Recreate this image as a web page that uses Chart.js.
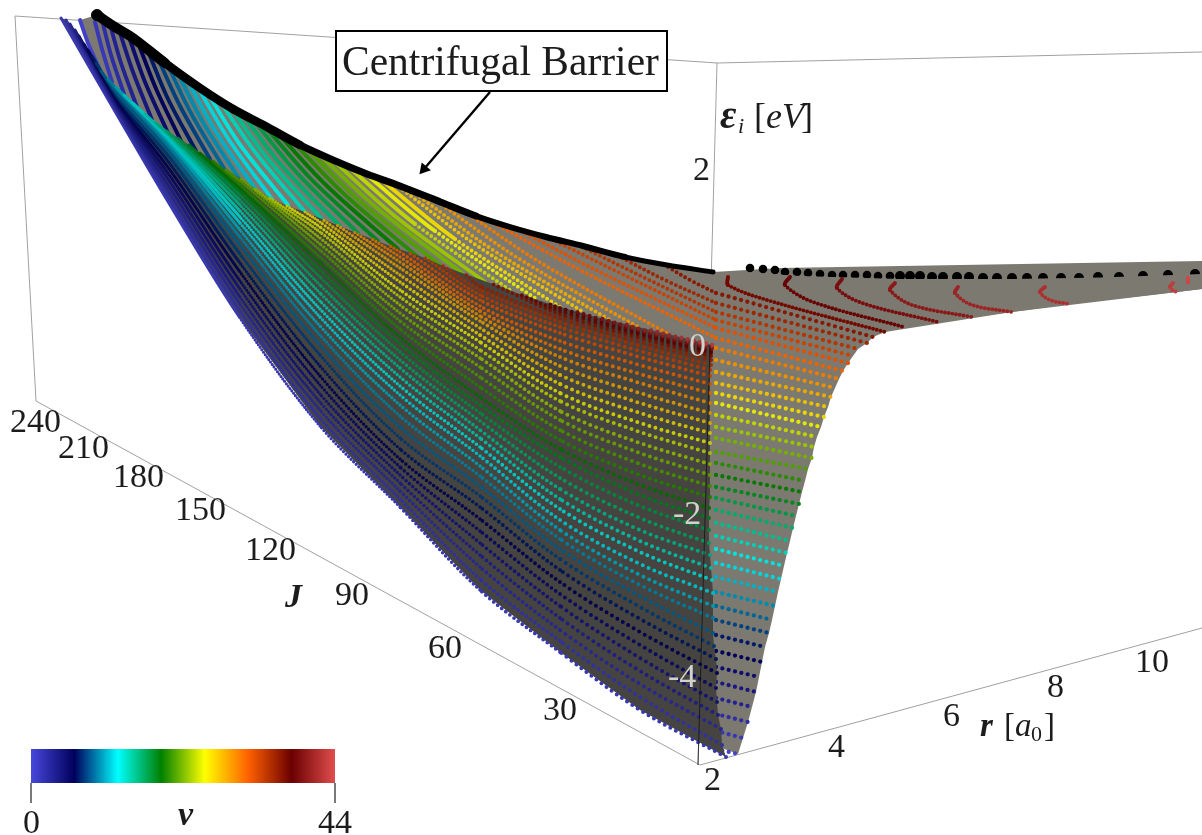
<!DOCTYPE html>
<html>
<head>
<meta charset="utf-8">
<title>Centrifugal Barrier</title>
<script src="https://cdn.jsdelivr.net/npm/chart.js@4"></script>
<style>
  html, body { margin: 0; padding: 0; background: #fff; }
  canvas { display: block; }
</style>
</head>
<body>
<canvas id="myChart" width="1202" height="835"></canvas>
<script>
// projected picture values, one entry per vibrational level v = 0..44
// inner sheet: value read at successive stations, the list stops at the ridge
const innerX0 = [726,722,721,718,717,716,717,716,714,713,713,713,713,712,711,710,709,709,709,709,710,710,710,710,710,710,710,710,710,710,710,710,710,710,711,711,711,711,711,711,712,712,712,712,712];
const innerY0 = [757,745,729,715,702,688,673,659,646,633,618,606,593,580,568,555,543,530,518,508,497,486,475,464,453,443,433,423,413,403,393,384,376,370,365,360,356,353,351,349,348,347,346,345,345];
const stations = [640,560,480,400,320,240,170,120];
const inner640 = [710,697,684,671,658,645,632,619,607,596,585,575,564,552,541,530,518,506,495,485,475,464,453,443,432,423,413,403,393,383,374,365,357,351,346,342,338,335,333,331,330,329];
const inner560 = [652,641,630,618,606,594,582,570,559,549,539,530,520,509,499,489,478,467,457,449,440,430,420,411,401,393,384,375,366,357,349,341,333,327,322,318,314,311,308];
const inner480 = [590,579,567,555,543,531,519,507,496,486,476,466,456,447,438,430,421,413,405,397,387,377,367,358,350,342,335,328,321,316,311,306,300,295,290,286];
const inner400 = [507,499,491,483,475,467,459,449,438,427,416,405,395,386,377,368,360,352,344,337,329,321,313,305,297,290,282,275,268,262,257,252];
const inner320 = [426,418,410,402,394,385,376,366,355,345,335,326,317,309,301,293,285,277,270,263,257,250,244,238,232,227,222];
const inner240 = [318,311,304,297,289,281,272,263,254,245,237,230,223,217,211,205,200,195,191,188,185,181];
const inner170 = [205,200,194,188,182,176,170,164,158,153,148,144,141,139,137,135];
const inner120 = [120,117,114,112,109,107,105,102,100,97,93];
const ridgeX = [61,66,70,75,79,84,88,92,96,101,108,116,124,133,145,156,167,178,189,200,213,226,240,254,270,287,305,322,337,354,372,390,408,425,443,465,490,517,547,577,600,625,650,680,700];
const ridgeY = [18,20,24,30,36,44,50,56,63,71,79,87,95,103,114,123,131,138,145,153,161,170,178,188,198,206,212,219,225,232,239,246,252,258,266,274,283,293,303,312,318,324,330,337,342];

// outer sheet: from the barrier, down to the J = 0 wall
const arcX0 = [80,95,103,111,120,130,140,150,160,170,180,190,200,210,221,232,244,256,268,281,294,308,322,337,352,368,385,403,420,442,465,490,517,547,582,622,668,728,790,842,895,958,1045,1173,1188];
const arcY0 = [20,22,24,28,33,40,48,56,63,70,78,85,91,97,103,109,116,123,130,137,143,150,157,164,170,176,183,190,197,205,212,221,229,237,247,258,267,277,277,279,283,287,287,283,278];
const arcX1 = [88,102,111,121,133,145,157,168,180,192,204,216,229,241,255,268,282,297,312,328,344,361,378,396,415,435,455,476,496,521,546,580,600,620,645,665,690,728,785,837,890,955,1040,1170,1188];
const arcY1 = [43,49,55,63,72,82,91,99,106,115,124,132,140,146,152,159,166,173,180,187,194,202,209,217,224,231,239,245,252,260,266,270,272,273,278,280,280,285,285,288,290,293,292,287,282];
const arcX2 = [100,112,124,137,152,168,182,196,210,225,240,256,272,288,305,322,340,358,378,398,418,440,462,485,510,535,560,585,610,640,667];
const arcY2 = [70,82,94,107,120,133,143,151,159,170,180,190,199,205,212,219,226,233,241,249,257,265,273,282,290,298,307,313,320,328,333];
const arcX3 = [716,716,716,716,716,716,716,716,716,716,716,716,716,716,716,716,716,716,716,716,716,716,716,716,716,716,716,716,716,716,716,716,716,716,716,716,716,767,813,862,912,972,1050,1172,1188];
const arcY3 = [749,731,714,698,682,667,651,635,620,606,592,577,563,549,536,523,510,498,487,475,463,452,438,427,415,403,393,383,372,360,348,338,328,320,312,303,293,300,302,303,305,305,300,290,284];
const wallX = [738,743,748,752,756,759,762,765,769,772,775,778,781,784,787,790,793,796,799,802,805,808,812,814,817,821,824,828,831,835,839,843,848,853,858,867,873,885,904,938,972,1012,1070,1177,1188];
const wallY = [754,738,722,707,692,677,662,647,633,620,606,592,579,566,553,541,528,516,504,492,481,469,458,447,437,427,417,407,397,388,379,371,363,356,349,343,337,332,327,322,317,312,304,292,285];

// centrifugal barrier, black
const barrierX = [97,115,133,165,200,233,267,300,333,367,400,443,476,510,546,583,625,667,713];
const barrierY = [15,27,38,63,88,109,127,145,160,174,186,203,216,227,237,246,257,265,272];
const barrierDotsX = [750,763,775,785,797,808,820,832,843,855,867,878,890,900,910,920,932,943,957,969,983,997,1012,1027,1043,1061,1079,1098,1119,1143,1168,1195];
const barrierDotsY = [268,269,270,272,272,273,274,275,275,275,275,276,276,276,276,276,277,277,277,277,278,278,278,278,278,278,278,277,277,276,275,274];

const colorStops = [[71,71,219],[0,0,92],[0,255,255],[0,128,0],[255,255,0],[255,97,0],[107,0,0],[224,77,77]];
const vMax = 44;

// k darkens the colour, the surface is lit in the original
function colorAt(v, k) {
    const t = v / vMax * (colorStops.length - 1);
    const i = Math.min(Math.floor(t), colorStops.length - 2);
    const f = t - i;
    const c = colorStops[i].map((a, n) => Math.round((a + (colorStops[i + 1][n] - a) * f) * k));
    return 'rgb(' + c.join(',') + ')';
}

function xy(xs, ys) {
    return xs.map((x, i) => ({x: x, y: ys[i]}));
}

const datasets = [];
function addLine(points, opts) {
    datasets.push(Object.assign({
        data: points,
        showLine: true,
        pointRadius: 0,
        borderWidth: 1,
        borderColor: '#999',
        tension: 0,
    }, opts));
}

// box edges
const edgeColor = '#a0a0a0';
addLine(xy([15,36],[16,401]), {borderColor: edgeColor});
addLine(xy([36,700],[401,765]), {borderColor: edgeColor});
addLine(xy([700,1202],[765,628]), {borderColor: edgeColor});
addLine(xy([15,717,1202],[16,63,52]), {borderColor: edgeColor});
addLine(xy([717,698],[63,765]), {borderColor: edgeColor});

// outer sheet
const backSheet = xy(barrierX, barrierY)
    .concat(xy([780,1202,1202],[268,261,289]))
    .concat(xy(wallX.slice(0, 44), wallY.slice(0, 44)).reverse())
    .concat(xy([700,100,80],[740,70,20]));
addLine(backSheet, {borderWidth: 0, fill: 'shape', backgroundColor: 'rgb(124,121,113)', borderColor: 'rgba(0,0,0,0)'});

addLine(xy(barrierDotsX, barrierDotsY), {
    showLine: false,
    pointRadius: c => c.parsed.x < 900 ? 4.3 : 5,
    pointBackgroundColor: '#000',
    pointBorderWidth: 0,
});
const coverX = [740,800,900,1012,1100,1202,1202,1177,1012,885,740];
const coverY = [272,276,279,279,277.5,274,289,292,312,332,340];
addLine(xy(coverX, coverY), {borderWidth: 0, fill: 'shape', backgroundColor: 'rgb(124,121,113)', borderColor: 'rgba(0,0,0,0)'});

for (let v = 0; v <= vMax; v++) {
    const upper = [{x: arcX0[v], y: arcY0[v]}, {x: arcX1[v], y: arcY1[v]}];
    if (arcX2[v] != null) upper.push({x: arcX2[v], y: arcY2[v]});
    else upper.push({x: arcX3[v], y: arcY3[v]});
    if (v >= 37) upper.push({x: wallX[v], y: wallY[v]});
    addLine(upper, {
        borderColor: colorAt(v, 0.92),
        borderWidth: 3.9,
        borderCapStyle: 'round',
        tension: 0.35,
        segment: {
            borderDash: c => {
                if (v >= 37) return c.p0DataIndex === 0 ? undefined : [0, 3.8];
                return c.p0.parsed.x > 400 ? [0, 5] : undefined;
            },
        },
    });
    // the part of the level that shows right of the inner sheet
    if (v < 37) {
        addLine(xy([arcX3[v], wallX[v]], [arcY3[v], wallY[v]]), {
            borderColor: colorAt(v, 0.92),
            borderWidth: 4.3,
            borderCapStyle: 'round',
            borderDash: [0, 6.5],
        });
    }
}

// barrier ridge, gets thinner towards J = 0
addLine(xy(barrierX, barrierY), {
    borderColor: '#000',
    borderCapStyle: 'round',
    tension: 0.3,
    pointRadius: c => c.dataIndex === 0 ? 5.5 : 0,
    pointBackgroundColor: '#000',
    segment: {
        borderWidth: c => {
            const px = c.p0.parsed.x;
            return px < 150 ? 10 : px < 300 ? 8.5 : px < 450 ? 7 : px < 600 ? 6 : 5;
        },
    },
});

// inner sheet
const innerCols = [inner640, inner560, inner480, inner400, inner320, inner240, inner170, inner120];
const frontEdge = [];
for (let i = 0; i < innerCols.length; i++) {
    frontEdge.push({x: stations[i], y: innerCols[i][0]});
}
const frontSheet = [{x: innerX0[0], y: innerY0[0]}]
    .concat(frontEdge)
    .concat(xy(ridgeX, ridgeY))
    .concat(xy(innerX0, innerY0).reverse());
addLine(frontSheet, {borderWidth: 0, fill: 'shape', backgroundColor: 'rgb(70,68,64)', borderColor: 'rgba(0,0,0,0)'});

for (let v = 0; v <= vMax; v++) {
    const pts = [{x: innerX0[v], y: innerY0[v]}];
    innerCols.forEach((col, i) => {
        if (col[v] != null) pts.push({x: stations[i], y: col[v]});
    });
    pts.push({x: ridgeX[v], y: ridgeY[v]});
    addLine(pts, {
        borderColor: colorAt(v, 0.8),
        borderWidth: 4,
        borderCapStyle: 'round',
        tension: 0.35,
        segment: {
            borderWidth: c => {
                const px = c.p0.parsed.x;
                return px > 560 ? 4 : px > 480 ? 3.8 : px > 400 ? 3.6 : px > 320 ? 3.3 : px > 240 ? 3.1 : 2.9;
            },
            borderDash: c => {
                const px = c.p0.parsed.x;
                if (px > 560) return [0, 6.3];
                if (px > 480) return [0, 5.2];
                if (px > 400) return [0, 4.4];
                if (px > 320) return [0, 3.6];
                if (px > 240) return [0, 3];
                return undefined;
            },
        },
    });
}

// box edge seen on top of the inner sheet
addLine(xy([710,698],[345,765]), {borderColor: 'rgba(20,20,20,0.8)'});

// arrow
addLine(xy([490,424],[92,169]), {
    borderColor: '#000',
    borderWidth: 2.4,
    pointStyle: 'triangle',
    pointRotation: 221,
    pointRadius: c => c.dataIndex === 1 ? 7 : 0,
    pointBackgroundColor: '#000',
    pointBorderWidth: 0,
});

// colour bar
addLine(xy([31,31],[783,803]), {borderColor: '#666'});
addLine(xy([335,335],[783,803]), {borderColor: '#666'});
addLine(xy([31,335],[766,766]), {
    borderWidth: 34,
    borderCapStyle: 'butt',
    borderColor: c => {
        const g = c.chart.ctx.createLinearGradient(31, 0, 335, 0);
        colorStops.forEach((s, i) => g.addColorStop(i / (colorStops.length - 1), 'rgb(' + s.join(',') + ')'));
        return g;
    },
});

// text, anchored in the same coordinates as the marks
const serif = '"Liberation Serif"';
const tickFont = '34px ' + serif;
const textDark = '#1c1c1c';
const sheetTick = '#d2d2cc';
const labels = [
    ['240', 10, 432, tickFont, textDark], ['210', 58, 458, tickFont, textDark], ['180', 113, 487, tickFont, textDark],
    ['150', 175, 520, tickFont, textDark], ['120', 245, 560, tickFont, textDark], ['90', 335, 605, tickFont, textDark],
    ['60', 428, 658, tickFont, textDark], ['30', 543, 720, tickFont, textDark],
    ['J', 285, 607, 'italic bold 34px ' + serif, textDark],
    ['2', 704, 790, tickFont, textDark], ['4', 828, 757, tickFont, textDark], ['6', 943, 726, tickFont, textDark],
    ['8', 1047, 697, tickFont, textDark], ['10', 1135, 672, tickFont, textDark],
    ['r', 980, 736, 'italic bold 33px ' + serif, textDark],
    ['[', 1004, 736, '33px ' + serif, textDark], ['a', 1015, 736, 'italic 33px ' + serif, textDark],
    ['0', 1031, 741, '22px ' + serif, textDark],
    [']', 1044, 736, '33px ' + serif, textDark],
    ['ε', 720, 128, 'italic bold 40px ' + serif, textDark], ['i', 738, 133, 'italic 22px ' + serif, textDark],
    ['[', 754, 128, '36px ' + serif, textDark], ['eV', 766, 128, 'italic 36px ' + serif, textDark], [']', 801, 128, '36px ' + serif, textDark],
    ['2', 693, 180, tickFont, textDark],
    ['0', 689, 356, tickFont, sheetTick], ['-2', 673, 524, tickFont, sheetTick], ['-4', 668, 687, tickFont, sheetTick],
    ['0', 23, 833, tickFont, textDark], ['44', 318, 833, tickFont, textDark],
    ['v', 178, 825, 'italic bold 34px ' + serif, textDark],
];

const textPlugin = {
    id: 'textPlugin',
    afterDatasetsDraw(chart) {
        const ctx = chart.ctx;
        const sx = chart.scales.x, sy = chart.scales.y;
        ctx.save();
        ctx.fillStyle = '#fff';
        ctx.strokeStyle = '#000';
        ctx.lineWidth = 2;
        const bx = sx.getPixelForValue(336), by = sy.getPixelForValue(31);
        ctx.fillRect(bx, by, 331, 60);
        ctx.strokeRect(bx, by, 331, 60);
        ctx.textBaseline = 'alphabetic';
        ctx.fillStyle = textDark;
        ctx.font = '41.5px ' + serif;
        ctx.fillText('Centrifugal Barrier', sx.getPixelForValue(342), sy.getPixelForValue(75));
        labels.forEach(l => {
            ctx.font = l[3];
            ctx.fillStyle = l[4];
            ctx.fillText(l[0], sx.getPixelForValue(l[1]), sy.getPixelForValue(l[2]));
        });
        ctx.restore();
    },
};

const myChart = new Chart(document.getElementById('myChart'), {
    type: 'scatter',
    data: {datasets: datasets.reverse()},
    options: {
        responsive: false,
        animation: false,
        events: [],
        layout: {padding: 0, autoPadding: false},
        plugins: {legend: {display: false}, tooltip: {enabled: false}},
        scales: {
            x: {type: 'linear', display: false, min: 0, max: 1202},
            y: {type: 'linear', display: false, min: 0, max: 835, reverse: true},
        },
    },
    plugins: [textPlugin],
});
</script>
</body>
</html>
